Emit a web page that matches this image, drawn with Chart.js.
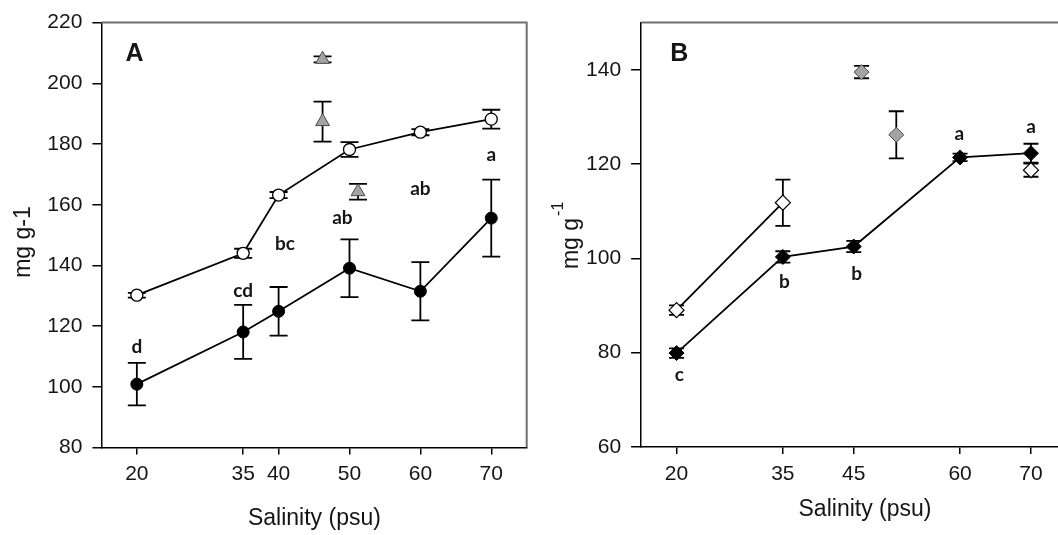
<!DOCTYPE html>
<html><head><meta charset="utf-8">
<script src="https://cdn.jsdelivr.net/npm/chart.js@4.4.1/dist/chart.umd.min.js"></script>
<style>
html,body{margin:0;padding:0;background:#fff;overflow:hidden;width:1058px;height:535px;}
#wrapA{position:absolute;left:0;top:0;width:530px;height:535px;}
#wrapB{position:absolute;left:530px;top:0;width:545px;height:535px;}
</style></head><body>
<div id="wrapA"><canvas id="cA" width="530" height="535"></canvas></div>
<div id="wrapB"><canvas id="cB" width="545" height="535"></canvas></div>
<script>
// ---------- Panel A data ----------
const salinityA = [20, 35, 40, 50, 60, 70];
const openA = [130.2, 144.0, 163.2, 178.2, 183.9, 188.2];
const openAErr = [0.8, 1.5, 1.0, 2.4, 1.0, 3.1];
const filledA = [100.9, 118.1, 124.9, 139.1, 131.5, 155.6];
const filledAErr = [7.0, 8.9, 8.0, 9.5, 9.6, 12.7];
const grayAX = [46.2, 46.2, 51.2];
const grayA = [207.9, 187.4, 164.3];
const grayAErr = [1.0, 6.6, 2.6];
const lettersA = ['d', 'cd', 'bc', 'ab', 'ab', 'a'];
const letterAX = [20, 35, 40.9, 49.0, 60, 70];
const letterAY = [113.2, 131.5, 147.2, 155.8, 165.2, 176.3];
const ticksAX = [20, 35, 40, 50, 60, 70];
const ticksAY = [80, 100, 120, 140, 160, 180, 200, 220];

// ---------- Panel B data ----------
const salinityB = [20, 35, 45, 60, 70];
const openB = [89.0, 111.8, null, null, 118.7];
const openBErr = [1.0, 4.9, null, null, 1.4];
const filledB = [79.9, 100.3, 102.5, 121.4, 122.3];
const filledBErr = [1.0, 1.2, 1.2, 0.8, 2.0];
const grayBX = [46.1, 51.0];
const grayB = [139.5, 126.2];
const grayBErr = [1.3, 5.0];
const lettersB = ['c', 'b', 'b', 'a', 'a'];
const letterBX = [20.4, 35.2, 45.4, 59.9, 70];
const letterBY = [75.3, 95.1, 96.7, 126.4, 127.8];
const ticksBX = [20, 35, 45, 60, 70];
const ticksBY = [60, 80, 100, 120, 140];

const FONT = '"Liberation Sans", Arial, sans-serif';
const LFONT = 'Lato, "Open Sans", sans-serif';
const TXT = '#151515';

function pts(xs, ys) { return xs.map((x, i) => ({x: x, y: ys[i]})); }

const errorBars = {
  id: 'errorBars',
  beforeDatasetsDraw(chart) {
    const ctx = chart.ctx, ys = chart.scales.y;
    ctx.save();
    ctx.strokeStyle = '#000';
    ctx.lineWidth = 1.8;
    chart.data.datasets.forEach((ds, di) => {
      if (!ds.errors) return;
      const meta = chart.getDatasetMeta(di);
      meta.data.forEach((el, i) => {
        const e = ds.errors[i], v = ds.data[i].y;
        if (e == null || v == null) return;
        const x = el.x;
        const yt = ys.getPixelForValue(v + e), yb = ys.getPixelForValue(v - e);
        const c = ds.capHalf || 8;
        ctx.beginPath();
        ctx.moveTo(x, yt); ctx.lineTo(x, yb);
        ctx.moveTo(x - c, yt); ctx.lineTo(x + c, yt);
        ctx.moveTo(x - c, yb); ctx.lineTo(x + c, yb);
        ctx.stroke();
      });
    });
    ctx.restore();
  }
};

function framePlugin(drawRight) {
  return {
    id: 'frame',
    afterDraw(chart) {
      const ctx = chart.ctx, a = chart.chartArea;
      ctx.save();
      ctx.strokeStyle = '#6f6f6f';
      ctx.lineWidth = 2;
      ctx.beginPath();
      ctx.moveTo(a.left, a.top); ctx.lineTo(a.right, a.top);
      if (drawRight) ctx.lineTo(a.right, a.bottom);
      ctx.stroke();
      ctx.restore();
    }
  };
}

function textPlugin(letters, lx, ly, extra) {
  return {
    id: 'texts',
    afterDatasetsDraw(chart) {
      const ctx = chart.ctx, xs = chart.scales.x, ys = chart.scales.y;
      ctx.save();
      ctx.fillStyle = TXT;
      ctx.textAlign = 'center';
      ctx.textBaseline = 'middle';
      ctx.font = 'bold 19px ' + LFONT;
      letters.forEach((t, i) => {
        ctx.fillText(t, xs.getPixelForValue(lx[i]), ys.getPixelForValue(ly[i]));
      });
      extra(ctx);
      ctx.restore();
    }
  };
}

function scaleCfg(ticksArr, isX, fitSize, tickLen, pad, min, max) {
  return {
    type: 'linear',
    min: min, max: max,
    afterBuildTicks: s => { s.ticks = ticksArr.map(v => ({value: v})); },
    afterFit: s => { if (isX) s.height = fitSize; else s.width = fitSize; },
    grid: {display: true, drawOnChartArea: false, drawTicks: true, tickLength: tickLen, color: '#000', lineWidth: 1.5},
    border: {display: true, color: '#000', width: 1.5},
    ticks: {font: {family: FONT, size: 21}, color: TXT, padding: pad, maxRotation: 0, autoSkip: false, callback: v => String(v)}
  };
}

const baseOpts = {
  responsive: false, animation: false, devicePixelRatio: 1,
  plugins: {legend: {display: false}, tooltip: {enabled: false}}
};

// ---------- Chart A ----------
new Chart(document.getElementById('cA'), {
  type: 'scatter',
  data: {datasets: [
    {data: pts(salinityA, filledA), errors: filledAErr, showLine: true, borderColor: '#000', borderWidth: 1.8,
     pointStyle: 'circle', pointRadius: 6, pointBackgroundColor: '#000', pointBorderColor: '#000', pointBorderWidth: 1, capHalf: 9},
    {data: pts(salinityA, openA), errors: openAErr, showLine: true, borderColor: '#000', borderWidth: 1.8,
     pointStyle: 'circle', pointRadius: 6, pointBackgroundColor: '#fff', pointBorderColor: '#000', pointBorderWidth: 1.3, capHalf: 9},
    {data: pts(grayAX, grayA), errors: grayAErr, showLine: false,
     pointStyle: 'triangle', pointRadius: 8, pointBackgroundColor: '#a3a3a3', pointBorderColor: '#4a4a4a', pointBorderWidth: 1, capHalf: 9}
  ]},
  options: Object.assign({}, baseOpts, {
    layout: {autoPadding: false, padding: {left: 0, top: 20, right: 3.3, bottom: 0}},
    scales: {
      x: scaleCfg(ticksAX, true, 87.4, 7, 7.5, 15, 75),
      y: scaleCfg(ticksAY, false, 101.4, 9, 10, 80, 220)
    }
  }),
  plugins: [errorBars, framePlugin(true), textPlugin(lettersA, letterAX, letterAY, ctx => {
    ctx.font = 'bold 25px ' + FONT;
    ctx.fillText('A', 134.6, 54);
    ctx.font = '23px ' + FONT;
    ctx.fillText('Salinity (psu)', 314.4, 518.6);
    ctx.save();
    ctx.translate(23.7, 242);
    ctx.rotate(-Math.PI / 2);
    ctx.fillText('mg g-1', 0, 0);
    ctx.restore();
  })]
});

// ---------- Chart B ----------
new Chart(document.getElementById('cB'), {
  type: 'scatter',
  data: {datasets: [
    {data: pts(salinityB, filledB), errors: filledBErr, showLine: true, borderColor: '#000', borderWidth: 1.8,
     pointStyle: 'rectRot', pointRadius: 7.5, pointBackgroundColor: '#000', pointBorderColor: '#000', pointBorderWidth: 1, capHalf: 7.5},
    {data: pts(salinityB, openB), errors: openBErr, showLine: true, spanGaps: false, borderColor: '#000', borderWidth: 1.8,
     pointStyle: 'rectRot', pointRadius: 7.5, pointBackgroundColor: '#fff', pointBorderColor: '#000', pointBorderWidth: 1.2, capHalf: 7.5},
    {data: pts(grayBX, grayB), errors: grayBErr, showLine: false,
     pointStyle: 'rectRot', pointRadius: 7.5, pointBackgroundColor: '#a3a3a3', pointBorderColor: '#4a4a4a', pointBorderWidth: 1, capHalf: 7.5}
  ]},
  options: Object.assign({}, baseOpts, {
    layout: {autoPadding: false, padding: {left: 0, top: 20, right: 8.6, bottom: 0}},
    scales: {
      x: scaleCfg(ticksBX, true, 88.1, 7, 7.3, 15, 75),
      y: scaleCfg(ticksBY, false, 111.1, 10, 10, 60, 150)
    }
  }),
  plugins: [errorBars, framePlugin(true), textPlugin(lettersB, letterBX, letterBY, ctx => {
    ctx.font = 'bold 25px ' + FONT;
    ctx.fillText('B', 149.2, 54);
    ctx.font = '23px ' + FONT;
    ctx.fillText('Salinity (psu)', 335, 509.2);
    ctx.save();
    ctx.translate(42, 243.5);
    ctx.rotate(-Math.PI / 2);
    ctx.fillText('mg g', 0, 0);
    const hw = ctx.measureText('mg g').width / 2;
    ctx.font = '16px ' + FONT;
    ctx.textAlign = 'left';
    ctx.fillText('-1', hw + 2, -13);
    ctx.restore();
  })]
});
</script>
</body></html>
